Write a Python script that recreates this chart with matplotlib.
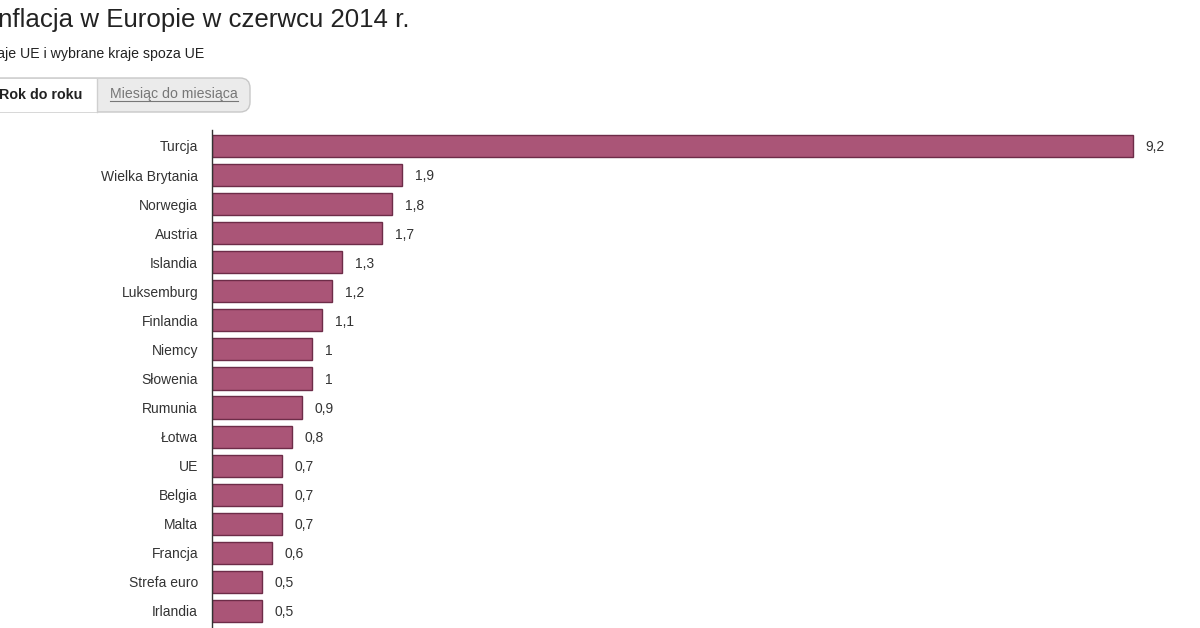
import numpy as np
import matplotlib.pyplot as plt
from matplotlib.patches import FancyBboxPatch, Rectangle

plt.rcParams['font.family'] = ['Liberation Sans', 'DejaVu Sans']

countries = ['Turcja', 'Wielka Brytania', 'Norwegia', 'Austria', 'Islandia',
             'Luksemburg', 'Finlandia', 'Niemcy', 'Słowenia', 'Rumunia',
             'Łotwa', 'UE', 'Belgia', 'Malta', 'Francja', 'Strefa euro',
             'Irlandia']
inflation = [9.2, 1.9, 1.8, 1.7, 1.3, 1.2, 1.1, 1.0, 1.0, 0.9, 0.8, 0.7,
             0.7, 0.7, 0.6, 0.5, 0.5]

title = 'Inflacja w Europie w czerwcu 2014 r.'
subtitle = 'Kraje UE i wybrane kraje spoza UE'
tab_on = 'Rok do roku'
tab_off = 'Miesiąc do miesiąca'

W, H = 1200, 628
fig = plt.figure(figsize=(W / 100, H / 100), dpi=100)

# overlay in pixel coords for header (page is cropped on the left)
ov = fig.add_axes([0, 0, 1, 1])
ov.set_xlim(0, W)
ov.set_ylim(H, 0)
ov.axis('off')

ov.text(-9, 27, title, fontsize=18.6, color='#222222', va='baseline', ha='left')
ov.text(-17, 58, subtitle, fontsize=10.2, color='#222222', va='baseline', ha='left')

# tab buttons
box = FancyBboxPatch((-20, 78), 270, 34, boxstyle='round,pad=0,rounding_size=10',
                     facecolor='#ebebeb', edgecolor='#c8c8c8', lw=1)
ov.add_patch(box)
ov.add_patch(Rectangle((-20, 78.5), 117, 33, facecolor='white', edgecolor='none'))
ov.plot([97, 97], [78.5, 111.5], color='#cfcfcf', lw=1)
ov.text(41, 95, tab_on, fontsize=10.3, fontweight='bold', color='#222222',
        ha='center', va='center')
ov.text(174, 94, tab_off, fontsize=10.2, color='#777777', ha='center', va='center')
ov.plot([110, 238], [101, 101], color='#777777', lw=0.8)

# bar chart
ax = fig.add_axes([212 / W, 0, (W - 212) / W, (H - 130) / H])
y = np.arange(len(countries))
ax.barh(y, inflation, height=0.76, color='#aa5577', edgecolor='#6d2c48', lw=1)
ax.set_xlim(0, (W - 212) / 100.1)
ax.set_ylim((H - 146) / 29.06, -(146 - 130) / 29.06)
ax.set_yticks(y)
ax.set_yticklabels(countries, fontsize=10, color='#333333')
ax.tick_params(axis='y', length=0, pad=10)
ax.set_xticks([])
for s in ['top', 'right', 'bottom']:
    ax.spines[s].set_visible(False)
ax.spines['left'].set_color('#333333')
ax.spines['left'].set_linewidth(1)
ax.patch.set_alpha(0)

for yi, v in zip(y, inflation):
    lbl = ('%g' % v).replace('.', ',')
    ax.annotate(lbl, (v, yi), xytext=(9, -1), textcoords='offset points',
                va='center', ha='left', fontsize=10, color='#333333')

fig.savefig('out.png', dpi=100)
